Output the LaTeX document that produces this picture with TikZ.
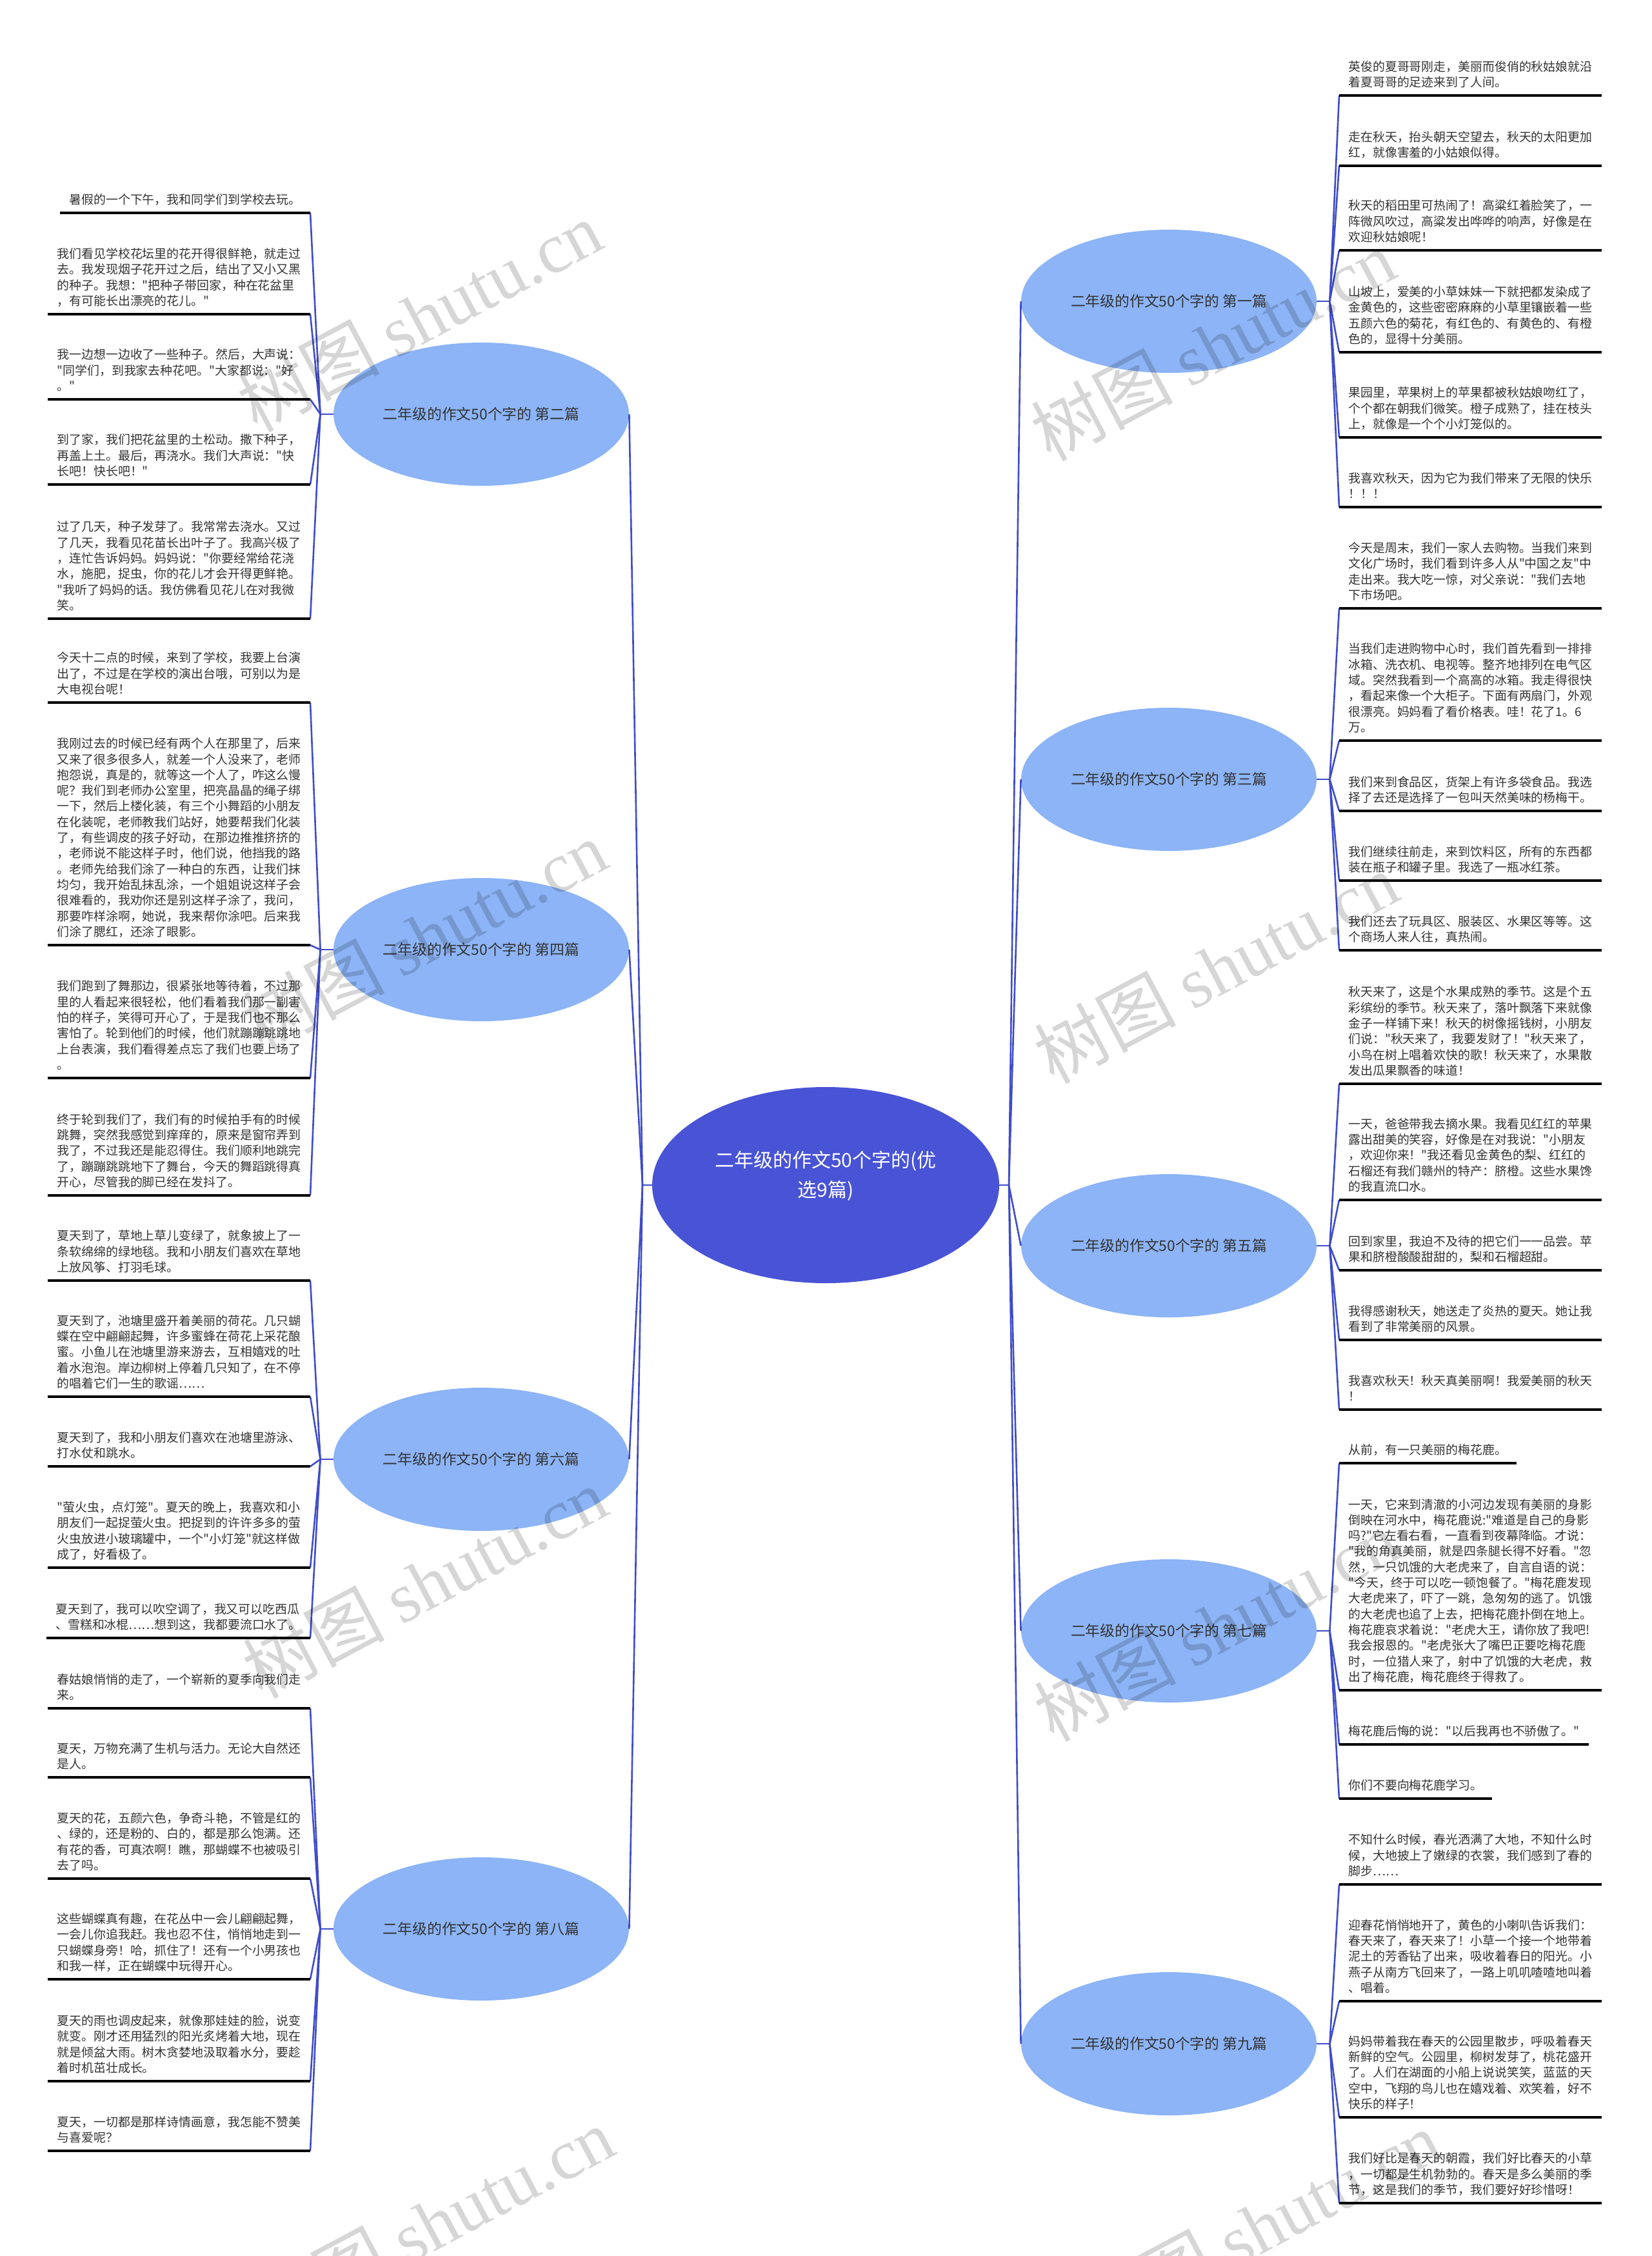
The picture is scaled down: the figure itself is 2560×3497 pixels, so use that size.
\documentclass[tikz,border=0pt]{standalone}
\usepackage{fontspec}
\setmainfont{Noto Sans CJK SC}[Ligatures=TeXOff]
\newfontfamily\wmlat{Liberation Serif}
\usetikzlibrary{shapes.geometric}
\definecolor{centerc}{HTML}{4853D6}
\definecolor{branchc}{HTML}{8CB4F6}
\definecolor{linec}{HTML}{3F4CC9}
\definecolor{textc}{HTML}{333333}
\newcommand\leaffont{\fontsize{9.45pt}{12.15pt}\selectfont}
\newcommand\brfont{\fontsize{11.4pt}{14pt}\selectfont}
\newcommand\cenfont{\fontsize{15pt}{23pt}\selectfont}
\newcommand\wmfont{\fontsize{55pt}{60pt}\selectfont}
\newcommand\brtext[1]{二年级的作文50个字的 #1}
\begin{document}
\begin{tikzpicture}[x=0.5pt,y=-0.5pt,
  leaf/.style={font=\leaffont, align=left, inner xsep=7pt, inner ysep=3pt, text=textc},
  leafL/.style={leaf, anchor=south east},
  leafR/.style={leaf, anchor=south west},
  uline/.style={draw=black, line width=1.6pt},
  conn/.style={draw=linec, line width=1.3pt},
  branch/.style={ellipse, fill=branchc, inner sep=0pt, minimum width=229pt, minimum height=111pt},
  brlabel/.style={font=\brfont, text=textc, inner sep=0pt},
  centre/.style={ellipse, fill=centerc, inner sep=0pt, minimum width=269pt, minimum height=152pt},
  wm/.style={font=\wmfont, text=black, opacity=0.16, rotate=28, inner sep=0pt}]
\useasboundingbox (0,0) rectangle (2560,3497);
\fill[white] (0,0) rectangle (2560,3497);

% centre
\node[centre] (c) at (1280,1837) {};
\node[font=\cenfont, text=white, align=center, inner sep=0pt] (ct) at (1280,1823) {二年级的作文50个字的(优\\选9篇)};
\coordinate (cjL) at (996,1837);
\coordinate (cjR) at (1564,1837);

% branches
\node[branch] (b2) at (746,642) {};
\node[branch] (b4) at (746,1472) {};
\node[branch] (b6) at (746,2262) {};
\node[branch] (b8) at (746,2990) {};
\node[branch] (b1) at (1812,467) {};
\node[branch] (b3) at (1812,1208) {};
\node[branch] (b5) at (1812,1931) {};
\node[branch] (b7) at (1812,2528) {};
\node[branch] (b9) at (1812,3168) {};
\node[brlabel] (t2) at (b2) {\brtext{第二篇}};
\node[brlabel] (t4) at (b4) {\brtext{第四篇}};
\node[brlabel] (t6) at (b6) {\brtext{第六篇}};
\node[brlabel] (t8) at (b8) {\brtext{第八篇}};
\node[brlabel] (t1) at (b1) {\brtext{第一篇}};
\node[brlabel] (t3) at (b3) {\brtext{第三篇}};
\node[brlabel] (t5) at (b5) {\brtext{第五篇}};
\node[brlabel] (t7) at (b7) {\brtext{第七篇}};
\node[brlabel] (t9) at (b9) {\brtext{第九篇}};

\draw[conn] (c.west) -- (cjL);
\draw[conn] (c.east) -- (cjR);
\foreach \b in {b2,b4,b6,b8} \draw[conn] (cjL) -- (\b.east);
\foreach \b in {b1,b3,b5,b7,b9} \draw[conn] (cjR) -- (\b.west);

\foreach \b in {b2,b4,b6,b8} \coordinate (j\b) at ([xshift=-10pt]\b.west);
\foreach \b in {b1,b3,b5,b7,b9} \coordinate (j\b) at ([xshift=10pt]\b.east);
\foreach \b in {b2,b4,b6,b8} \draw[conn] (\b.west) -- (j\b);
\foreach \b in {b1,b3,b5,b7,b9} \draw[conn] (\b.east) -- (j\b);

% ---------- left leaves ----------
\node[leafL] (l1) at (481,330) {暑假的一个下午，我和同学们到学校去玩。\strut};
\node[leafL] (l2) at (481,487) {我们看见学校花坛里的花开得很鲜艳，就走过\\去。我发现烟子花开过之后，结出了又小又黑\\的种子。我想："把种子带回家，种在花盆里\\，有可能长出漂亮的花儿。"\strut};
\node[leafL] (l3) at (481,619) {我一边想一边收了一些种子。然后，大声说：\\"同学们，到我家去种花吧。"大家都说："好\\。"\strut};
\node[leafL] (l4) at (481,751) {到了家，我们把花盆里的土松动。撒下种子，\\再盖上土。最后，再浇水。我们大声说："快\\长吧！快长吧！"\strut};
\node[leafL] (l5) at (481,959) {过了几天，种子发芽了。我常常去浇水。又过\\了几天，我看见花苗长出叶子了。我高兴极了\\，连忙告诉妈妈。妈妈说："你要经常给花浇\\水，施肥，捉虫，你的花儿才会开得更鲜艳。\\"我听了妈妈的话。我仿佛看见花儿在对我微\\笑。\strut};

\node[leafL] (l6) at (481,1089) {今天十二点的时候，来到了学校，我要上台演\\出了，不过是在学校的演出台哦，可别以为是\\大电视台呢！\strut};
\node[leafL] (l7) at (481,1465) {我刚过去的时候已经有两个人在那里了，后来\\又来了很多很多人，就差一个人没来了，老师\\抱怨说，真是的，就等这一个人了，咋这么慢\\呢？我们到老师办公室里，把亮晶晶的绳子绑\\一下，然后上楼化装，有三个小舞蹈的小朋友\\在化装呢，老师教我们站好，她要帮我们化装\\了，有些调皮的孩子好动，在那边推推挤挤的\\，老师说不能这样子时，他们说，他挡我的路\\。老师先给我们涂了一种白的东西，让我们抹\\均匀，我开始乱抹乱涂，一个姐姐说这样子会\\很难看的，我劝你还是别这样子涂了，我问，\\那要咋样涂啊，她说，我来帮你涂吧。后来我\\们涂了腮红，还涂了眼影。\strut};
\node[leafL] (l8) at (481,1671) {我们跑到了舞那边，很紧张地等待着，不过那\\里的人看起来很轻松，他们看着我们那一副害\\怕的样子，笑得可开心了，于是我们也不那么\\害怕了。轮到他们的时候，他们就蹦蹦跳跳地\\上台表演，我们看得差点忘了我们也要上场了\\。\strut};
\node[leafL] (l9) at (481,1853) {终于轮到我们了，我们有的时候拍手有的时候\\跳舞，突然我感觉到痒痒的，原来是窗帘弄到\\我了，不过我还是能忍得住。我们顺利地跳完\\了，蹦蹦跳跳地下了舞台，今天的舞蹈跳得真\\开心，尽管我的脚已经在发抖了。\strut};

\node[leafL] (l10) at (481,1985) {夏天到了，草地上草儿变绿了，就象披上了一\\条软绵绵的绿地毯。我和小朋友们喜欢在草地\\上放风筝、打羽毛球。\strut};
\node[leafL] (l11) at (481,2165) {夏天到了，池塘里盛开着美丽的荷花。几只蝴\\蝶在空中翩翩起舞，许多蜜蜂在荷花上采花酿\\蜜。小鱼儿在池塘里游来游去，互相嬉戏的吐\\着水泡泡。岸边柳树上停着几只知了，在不停\\的唱着它们一生的歌谣……\strut};
\node[leafL] (l12) at (481,2273) {夏天到了，我和小朋友们喜欢在池塘里游泳、\\打水仗和跳水。\strut};
\node[leafL] (l13) at (481,2430) {"萤火虫，点灯笼"。夏天的晚上，我喜欢和小\\朋友们一起捉萤火虫。把捉到的许许多多的萤\\火虫放进小玻璃罐中，一个"小灯笼"就这样做\\成了，好看极了。\strut};
\node[leafL] (l14) at (481,2539) {夏天到了，我可以吹空调了，我又可以吃西瓜\\、雪糕和冰棍……想到这，我都要流口水了。\strut};

\node[leafL] (l15) at (481,2648) {春姑娘悄悄的走了，一个崭新的夏季向我们走\\来。\strut};
\node[leafL] (l16) at (481,2755) {夏天，万物充满了生机与活力。无论大自然还\\是人。\strut};
\node[leafL] (l17) at (481,2912) {夏天的花，五颜六色，争奇斗艳，不管是红的\\、绿的，还是粉的、白的，都是那么饱满。还\\有花的香，可真浓啊！瞧，那蝴蝶不也被吸引\\去了吗。\strut};
\node[leafL] (l18) at (481,3068) {这些蝴蝶真有趣，在花丛中一会儿翩翩起舞，\\一会儿你追我赶。我也忍不住，悄悄地走到一\\只蝴蝶身旁！哈，抓住了！还有一个小男孩也\\和我一样，正在蝴蝶中玩得开心。\strut};
\node[leafL] (l19) at (481,3226) {夏天的雨也调皮起来，就像那娃娃的脸，说变\\就变。刚才还用猛烈的阳光炙烤着大地，现在\\就是倾盆大雨。树木贪婪地汲取着水分，要趁\\着时机茁壮成长。\strut};
\node[leafL] (l20) at (481,3334) {夏天，一切都是那样诗情画意，我怎能不赞美\\与喜爱呢？\strut};

% ---------- right leaves ----------
\node[leafR] (r1) at (2076,148) {英俊的夏哥哥刚走，美丽而俊俏的秋姑娘就沿\\着夏哥哥的足迹来到了人间。\strut};
\node[leafR] (r2) at (2076,257) {走在秋天，抬头朝天空望去，秋天的太阳更加\\红，就像害羞的小姑娘似得。\strut};
\node[leafR] (r3) at (2076,388) {秋天的稻田里可热闹了！高粱红着脸笑了，一\\阵微风吹过，高粱发出哗哗的响声，好像是在\\欢迎秋姑娘呢！\strut};
\node[leafR] (r4) at (2076,546) {山坡上，爱美的小草妹妹一下就把都发染成了\\金黄色的，这些密密麻麻的小草里镶嵌着一些\\五颜六色的菊花，有红色的、有黄色的、有橙\\色的，显得十分美丽。\strut};
\node[leafR] (r5) at (2076,678) {果园里，苹果树上的苹果都被秋姑娘吻红了，\\个个都在朝我们微笑。橙子成熟了，挂在枝头\\上，就像是一个个小灯笼似的。\strut};
\node[leafR] (r6) at (2076,786) {我喜欢秋天，因为它为我们带来了无限的快乐\\！！！\strut};

\node[leafR] (r7) at (2076,943) {今天是周末，我们一家人去购物。当我们来到\\文化广场时，我们看到许多人从"中国之友"中\\走出来。我大吃一惊，对父亲说："我们去地\\下市场吧。\strut};
\node[leafR] (r8) at (2076,1148) {当我们走进购物中心时，我们首先看到一排排\\冰箱、洗衣机、电视等。整齐地排列在电气区\\域。突然我看到一个高高的冰箱。我走得很快\\，看起来像一个大柜子。下面有两扇门，外观\\很漂亮。妈妈看了看价格表。哇！花了1。6\\万。\strut};
\node[leafR] (r9) at (2076,1257) {我们来到食品区，货架上有许多袋食品。我选\\择了去还是选择了一包叫天然美味的杨梅干。\strut};
\node[leafR] (r10) at (2076,1365) {我们继续往前走，来到饮料区，所有的东西都\\装在瓶子和罐子里。我选了一瓶冰红茶。\strut};
\node[leafR] (r11) at (2076,1473) {我们还去了玩具区、服装区、水果区等等。这\\个商场人来人往，真热闹。\strut};

\node[leafR] (r12) at (2076,1680) {秋天来了，这是个水果成熟的季节。这是个五\\彩缤纷的季节。秋天来了，落叶飘落下来就像\\金子一样铺下来！秋天的树像摇钱树，小朋友\\们说："秋天来了，我要发财了！"秋天来了，\\小鸟在树上唱着欢快的歌！秋天来了，水果散\\发出瓜果飘香的味道！\strut};
\node[leafR] (r13) at (2076,1860) {一天，爸爸带我去摘水果。我看见红红的苹果\\露出甜美的笑容，好像是在对我说："小朋友\\，欢迎你来！"我还看见金黄色的梨、红红的\\石榴还有我们赣州的特产：脐橙。这些水果馋\\的我直流口水。\strut};
\node[leafR] (r14) at (2076,1969) {回到家里，我迫不及待的把它们一一品尝。苹\\果和脐橙酸酸甜甜的，梨和石榴超甜。\strut};
\node[leafR] (r15) at (2076,2077) {我得感谢秋天，她送走了炎热的夏天。她让我\\看到了非常美丽的风景。\strut};
\node[leafR] (r16) at (2076,2185) {我喜欢秋天！秋天真美丽啊！我爱美丽的秋天\\！\strut};

\node[leafR] (r17) at (2076,2268) {从前，有一只美丽的梅花鹿。\strut};
\node[leafR] (r18) at (2076,2620) {一天，它来到清澈的小河边发现有美丽的身影\\倒映在河水中，梅花鹿说:"难道是自己的身影\\吗?"它左看右看，一直看到夜幕降临。才说：\\"我的角真美丽，就是四条腿长得不好看。"忽\\然，一只饥饿的大老虎来了，自言自语的说：\\"今天，终于可以吃一顿饱餐了。"梅花鹿发现\\大老虎来了，吓了一跳，急匆匆的逃了。饥饿\\的大老虎也追了上去，把梅花鹿扑倒在地上。\\梅花鹿哀求着说："老虎大王，请你放了我吧!\\我会报恩的。"老虎张大了嘴巴正要吃梅花鹿\\时，一位猎人来了，射中了饥饿的大老虎，救\\出了梅花鹿，梅花鹿终于得救了。\strut};
\node[leafR] (r19) at (2076,2704) {梅花鹿后悔的说："以后我再也不骄傲了。"\strut};
\node[leafR] (r20) at (2076,2788) {你们不要向梅花鹿学习。\strut};

\node[leafR] (r21) at (2076,2921) {不知什么时候，春光洒满了大地，不知什么时\\候，大地披上了嫩绿的衣裳，我们感到了春的\\脚步……\strut};
\node[leafR] (r22) at (2076,3102) {迎春花悄悄地开了，黄色的小喇叭告诉我们：\\春天来了，春天来了！小草一个接一个地带着\\泥土的芳香钻了出来，吸收着春日的阳光。小\\燕子从南方飞回来了，一路上叽叽喳喳地叫着\\、唱着。\strut};
\node[leafR] (r23) at (2076,3282) {妈妈带着我在春天的公园里散步，呼吸着春天\\新鲜的空气。公园里，柳树发芽了，桃花盛开\\了。人们在湖面的小船上说说笑笑，蓝蓝的天\\空中，飞翔的鸟儿也在嬉戏着、欢笑着，好不\\快乐的样子！\strut};
\node[leafR] (r24) at (2076,3415) {我们好比是春天的朝霞，我们好比春天的小草\\，一切都是生机勃勃的。春天是多么美丽的季\\节，这是我们的季节，我们要好好珍惜呀！\strut};

% leaf connectors
\foreach \l in {l1,l2,l3,l4,l5} \draw[conn] (jb2) -- (\l.south east);
\foreach \l in {l6,l7,l8,l9} \draw[conn] (jb4) -- (\l.south east);
\foreach \l in {l10,l11,l12,l13,l14} \draw[conn] (jb6) -- (\l.south east);
\foreach \l in {l15,l16,l17,l18,l19,l20} \draw[conn] (jb8) -- (\l.south east);
\foreach \r in {r1,r2,r3,r4,r5,r6} \draw[conn] (jb1) -- (\r.south west);
\foreach \r in {r7,r8,r9,r10,r11} \draw[conn] (jb3) -- (\r.south west);
\foreach \r in {r12,r13,r14,r15,r16} \draw[conn] (jb5) -- (\r.south west);
\foreach \r in {r17,r18,r19,r20} \draw[conn] (jb7) -- (\r.south west);
\foreach \r in {r21,r22,r23,r24} \draw[conn] (jb9) -- (\r.south west);

% underlines
\foreach \l in {l1,l2,l3,l4,l5,l6,l7,l8,l9,l10,l11,l12,l13,l14,l15,l16,l17,l18,l19,l20,r1,r2,r3,r4,r5,r6,r7,r8,r9,r10,r11,r12,r13,r14,r15,r16,r17,r18,r19,r20,r21,r22,r23,r24}
  \draw[uline] (\l.south west) -- (\l.south east);

% watermarks
\node[wm] (w1) at (650,490) {树图 {\wmlat shutu.cn}};
\node[wm] (w2) at (658,1450) {树图 {\wmlat shutu.cn}};
\node[wm] (w3) at (658,2453) {树图 {\wmlat shutu.cn}};
\node[wm] (w4) at (669,3445) {树图 {\wmlat shutu.cn}};
\node[wm] (w5) at (1880,535) {树图 {\wmlat shutu.cn}};
\node[wm] (w6) at (1885,1500) {树图 {\wmlat shutu.cn}};
\node[wm] (w7) at (1885,2520) {树图 {\wmlat shutu.cn}};
\node[wm] (w8) at (1950,3450) {树图 {\wmlat shutu.cn}};
\end{tikzpicture}
\end{document}
